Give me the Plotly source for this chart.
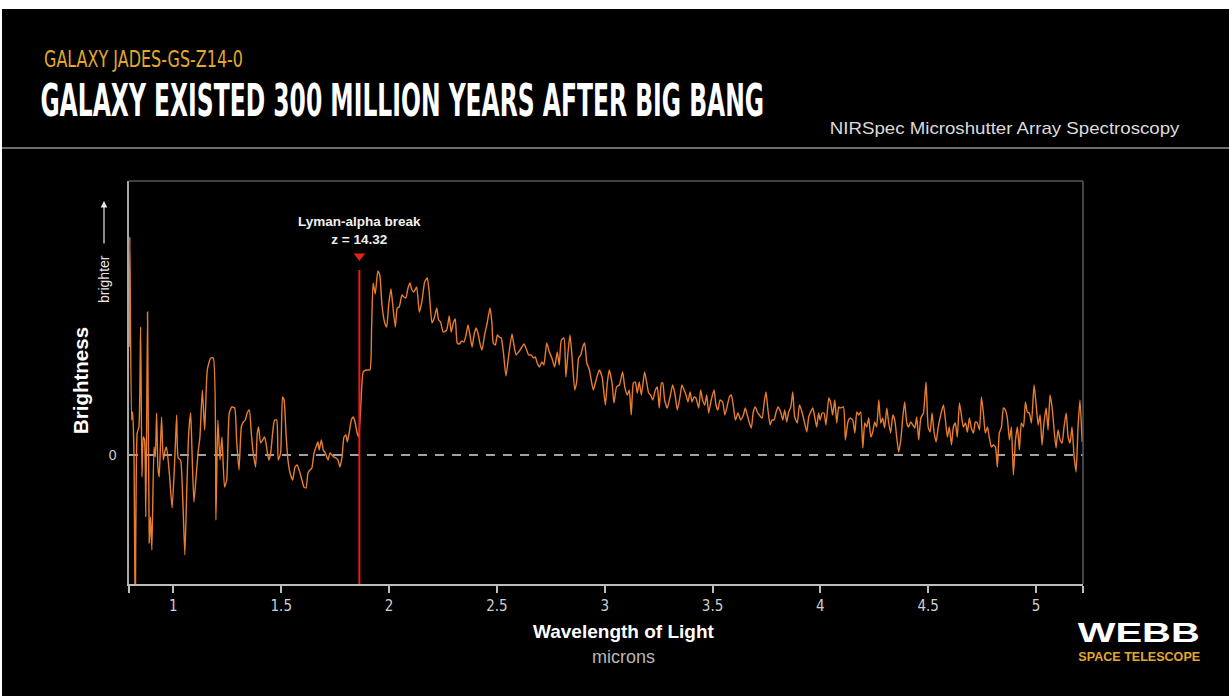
import json
import plotly.graph_objects as go

# ---- NIRSpec spectrum of JADES-GS-z14-0 (wavelength in microns, brightness in arbitrary units) ----
wavelength_blue = [
    0.795, 0.798, 0.806, 0.811, 0.817, 0.823, 0.832, 0.840, 0.848, 0.854,
    0.860, 0.866, 0.872, 0.880, 0.888, 0.894, 0.900, 0.910, 0.916, 0.922,
    0.928, 0.934, 0.945, 0.953, 0.962, 0.968, 0.981, 0.994, 1.006, 1.015,
    1.022, 1.033, 1.043, 1.053, 1.061, 1.071, 1.080, 1.086, 1.095, 1.104,
    1.114, 1.123, 1.134, 1.145, 1.157, 1.173, 1.185, 1.197, 1.206, 1.216,
    1.225, 1.237, 1.247, 1.259, 1.271, 1.284, 1.293, 1.304, 1.315, 1.324,
    1.333, 1.342, 1.352, 1.361, 1.370, 1.381, 1.389, 1.395, 1.404, 1.414,
    1.423, 1.432, 1.442, 1.451, 1.460, 1.469, 1.479, 1.486, 1.497, 1.506,
    1.513, 1.522, 1.531, 1.541, 1.553, 1.564, 1.574, 1.587, 1.596, 1.605,
    1.615, 1.624, 1.633, 1.642, 1.652, 1.661, 1.670, 1.676, 1.686, 1.695,
    1.704, 1.717, 1.726, 1.735, 1.744, 1.754, 1.763, 1.772, 1.782, 1.791,
    1.800, 1.806, 1.815, 1.825, 1.834, 1.843, 1.852, 1.859,
]
brightness_blue = [
    1.08, 2.18, 0.35, 0.43, 0.02, -1.70, 0.22, 0.28, 1.28, -0.22,
    0.18, 0.15, -0.62, 1.43, -0.88, -0.62, -0.95, 0.08, -0.02, 0.42,
    -0.12, -0.22, 0.38, -0.05, 0.05, 0.08, -0.18, -0.53, -0.05, 0.40,
    -0.03, -0.05, -0.42, -1.00, -0.42, 0.22, 0.42, 0.05, -0.47, -0.25,
    0.02, 0.18, 0.65, 0.25, 0.85, 0.97, 0.97, -0.65, 0.35, -0.05,
    0.18, -0.32, -0.25, 0.42, 0.48, 0.47, 0.15, -0.15, 0.28, 0.33,
    0.35, 0.42, 0.45, 0.22, 0.02, -0.12, 0.22, 0.28, 0.12, 0.15,
    0.18, 0.08, -0.05, 0.02, 0.22, 0.35, 0.35, -0.05, 0.02, 0.58,
    0.55, 0.22, -0.05, -0.18, -0.25, -0.12, -0.10, -0.18, -0.25, -0.32,
    -0.33, -0.18, -0.15, -0.13, 0.02, 0.08, 0.13, 0.05, 0.15, 0.05,
    0.02, -0.05, 0.02, 0.00, -0.02, -0.03, -0.05, -0.12, -0.02, 0.18,
    0.20, 0.13, 0.22, 0.35, 0.38, 0.32, 0.22, 0.18,
]

wavelength_peak = [
    1.868, 1.880, 1.893, 1.911, 1.919, 1.926, 1.936, 1.948, 1.957, 1.967,
    1.979, 1.989, 1.998, 2.009, 2.017, 2.029, 2.038, 2.047, 2.060, 2.069,
    2.078, 2.088, 2.097, 2.106, 2.115, 2.128, 2.140, 2.152, 2.165, 2.177,
    2.186, 2.199, 2.211, 2.221, 2.230, 2.239, 2.251, 2.267, 2.279, 2.288,
    2.298, 2.307, 2.316, 2.326, 2.337, 2.347, 2.357, 2.366, 2.375, 2.385,
    2.394, 2.403, 2.412, 2.421, 2.431, 2.443, 2.455, 2.468, 2.477, 2.483,
    2.493, 2.502, 2.511, 2.520, 2.530, 2.542, 2.555, 2.570, 2.579, 2.589,
    2.601, 2.613, 2.626, 2.638, 2.647, 2.660, 2.669, 2.678, 2.687, 2.697,
    2.709, 2.718, 2.731, 2.743, 2.755, 2.768, 2.780, 2.789, 2.799, 2.811,
    2.820, 2.830, 2.839, 2.848, 2.861, 2.870, 2.879, 2.889, 2.898, 2.907,
    2.917, 2.929, 2.947, 2.960, 2.975, 2.988,
]
brightness_peak = [
    0.45, 0.83, 0.85, 0.85, 1.27, 1.72, 1.61, 1.84, 1.80, 1.50,
    1.33, 1.28, 1.50, 1.66, 1.50, 1.28, 1.47, 1.48, 1.60, 1.58,
    1.57, 1.67, 1.72, 1.65, 1.63, 1.68, 1.43, 1.53, 1.73, 1.77,
    1.63, 1.32, 1.38, 1.47, 1.35, 1.33, 1.23, 1.25, 1.39, 1.23,
    1.32, 1.36, 1.12, 1.11, 1.14, 1.13, 1.20, 1.30, 1.20, 1.08,
    1.20, 1.27, 1.22, 1.12, 1.05, 1.20, 1.32, 1.47, 1.32, 1.12,
    1.10, 1.20, 1.18, 1.17, 1.03, 0.79, 1.00, 1.21, 1.10, 1.00,
    1.03, 1.07, 1.11, 1.05, 1.00, 1.00, 0.97, 0.98, 0.92, 0.88,
    0.93, 0.90, 1.12, 1.03, 0.97, 0.88, 1.03, 0.90, 1.15, 1.17,
    0.78, 1.03, 1.20, 1.00, 0.65, 0.73, 0.97, 1.00, 1.08, 1.12,
    0.92, 0.85, 0.65, 0.75, 0.85, 0.78,
]

wavelength_mid = [
    3.003, 3.012, 3.021, 3.034, 3.043, 3.055, 3.068, 3.083, 3.093, 3.105,
    3.114, 3.123, 3.133, 3.142, 3.151, 3.160, 3.170, 3.185, 3.195, 3.204,
    3.213, 3.223, 3.235, 3.244, 3.253, 3.263, 3.269, 3.278, 3.290, 3.303,
    3.315, 3.325, 3.337, 3.349, 3.358, 3.368, 3.377, 3.386, 3.396, 3.405,
    3.414, 3.423, 3.436, 3.445, 3.454, 3.464, 3.473, 3.482, 3.494, 3.507,
    3.516, 3.525, 3.535, 3.547, 3.557, 3.569, 3.578, 3.587, 3.596, 3.606,
    3.618, 3.631, 3.643, 3.652, 3.661, 3.671, 3.680, 3.689, 3.698, 3.708,
    3.717, 3.730, 3.739, 3.748, 3.757, 3.767, 3.776, 3.785, 3.795, 3.804,
    3.816, 3.826, 3.835, 3.844, 3.853, 3.863, 3.872, 3.881, 3.893, 3.903,
    3.912, 3.924, 3.937, 3.946, 3.955, 3.965, 3.974, 3.983, 3.992, 3.999,
    4.008, 4.017, 4.026, 4.039, 4.048, 4.057, 4.067, 4.076, 4.085,
]
brightness_mid = [
    0.50, 0.72, 0.85, 0.72, 0.52, 0.68, 0.70, 0.83, 0.68, 0.60,
    0.65, 0.40, 0.72, 0.73, 0.62, 0.73, 0.60, 0.83, 0.72, 0.62,
    0.60, 0.55, 0.65, 0.68, 0.47, 0.72, 0.72, 0.55, 0.47, 0.58,
    0.70, 0.62, 0.45, 0.58, 0.70, 0.65, 0.60, 0.53, 0.63, 0.53,
    0.58, 0.57, 0.47, 0.65, 0.55, 0.50, 0.60, 0.42, 0.55, 0.65,
    0.50, 0.45, 0.55, 0.53, 0.40, 0.50, 0.58, 0.60, 0.50, 0.35,
    0.42, 0.35, 0.40, 0.47, 0.40, 0.32, 0.27, 0.43, 0.48, 0.43,
    0.40, 0.37, 0.52, 0.63, 0.45, 0.30, 0.35, 0.35, 0.43, 0.48,
    0.43, 0.35, 0.45, 0.33, 0.43, 0.48, 0.63, 0.38, 0.32, 0.50,
    0.45, 0.35, 0.23, 0.38, 0.43, 0.47, 0.38, 0.28, 0.42, 0.35,
    0.42, 0.42, 0.30, 0.57, 0.52, 0.40, 0.55, 0.32, 0.48,
]

wavelength_red = [
    4.091, 4.107, 4.116, 4.128, 4.138, 4.150, 4.160, 4.169, 4.178, 4.187,
    4.197, 4.206, 4.215, 4.224, 4.234, 4.243, 4.252, 4.261, 4.271, 4.280,
    4.289, 4.298, 4.308, 4.317, 4.326, 4.336, 4.345, 4.354, 4.363, 4.373,
    4.382, 4.391, 4.401, 4.410, 4.419, 4.429, 4.438, 4.447, 4.456, 4.466,
    4.478, 4.490, 4.500, 4.509, 4.518, 4.527, 4.537, 4.546, 4.558, 4.571,
    4.580, 4.589, 4.598, 4.608, 4.617, 4.626, 4.635, 4.645, 4.654, 4.663,
    4.673, 4.682, 4.691, 4.700, 4.710, 4.719, 4.728, 4.738, 4.747, 4.756,
    4.765, 4.775, 4.784, 4.793, 4.802, 4.812, 4.821, 4.830, 4.840, 4.849,
    4.858, 4.867, 4.877, 4.886, 4.895, 4.905, 4.914, 4.923, 4.932, 4.942,
    4.951, 4.960, 4.969, 4.979, 4.991, 5.000, 5.010, 5.019, 5.028, 5.037,
    5.047, 5.056, 5.065, 5.075, 5.084, 5.093, 5.102, 5.112, 5.121, 5.130,
    5.140, 5.149, 5.158, 5.167, 5.177, 5.186, 5.195, 5.204, 5.214,
]
brightness_red = [
    0.47, 0.48, 0.15, 0.33, 0.37, 0.35, 0.22, 0.43, 0.40, 0.43,
    0.07, 0.32, 0.28, 0.37, 0.18, 0.23, 0.33, 0.28, 0.55, 0.32,
    0.37, 0.27, 0.47, 0.32, 0.22, 0.40, 0.35, 0.18, 0.03, 0.15,
    0.37, 0.53, 0.32, 0.28, 0.33, 0.30, 0.27, 0.38, 0.15, 0.37,
    0.42, 0.73, 0.28, 0.23, 0.42, 0.23, 0.13, 0.27, 0.40, 0.50,
    0.35, 0.18, 0.28, 0.10, 0.28, 0.32, 0.18, 0.52, 0.40, 0.28,
    0.32, 0.23, 0.37, 0.27, 0.22, 0.33, 0.32, 0.25, 0.58, 0.42,
    0.22, 0.28, 0.17, 0.08, 0.10, 0.08, -0.12, 0.22, 0.28, 0.47,
    0.45, 0.37, 0.15, 0.28, -0.20, 0.15, 0.28, 0.05, 0.32, 0.28,
    0.53, 0.43, 0.42, 0.32, 0.70, 0.52, 0.30, 0.40, 0.10, 0.32,
    0.47, 0.25, 0.60, 0.47, 0.25, 0.07, 0.25, 0.15, 0.12, 0.28,
    0.42, 0.18, 0.12, 0.28, -0.02, -0.17, 0.28, 0.55, 0.13,
]

# Lyman-alpha break position from the measured redshift
LYA_REST_UM = 0.121567
redshift = 14.32
break_um = LYA_REST_UM * (1 + redshift)
break_top = 1.85        # top of the red marker line (brightness units)
break_arrow_y = 1.99    # position of the red triangle marker

x_tick_vals = [1, 1.5, 2, 2.5, 3, 3.5, 4, 4.5, 5]
x_tick_text = ["1", "1.5", "2", "2.5", "3", "3.5", "4", "4.5", "5"]
x_range = [0.794, 5.218]
y_range = [-1.29, 2.74]

wavelength = wavelength_blue + wavelength_peak + wavelength_mid + wavelength_red
brightness = brightness_blue + brightness_peak + brightness_mid + brightness_red

# ---- page geometry (pixels) ----
W, H = 1229, 696
PL, PR, PT, PB = 129, 1083, 181, 584


def px_x(px):
    return (px - PL) / (PR - PL)


def px_y(py):
    return (PB - py) / (PB - PT)


ORANGE = "#E87D2E"
RED = "#E8201C"
GOLD = "#E2A82F"
HEAD = "DejaVu Sans, sans-serif"
COND = "DejaVu Sans Condensed, DejaVu Sans, sans-serif"
SANS = "Liberation Sans, Arial, Helvetica, sans-serif"

KICKER = "GALAXY JADES-GS-Z14-0"
HEADLINE = "GALAXY EXISTED 300 MILLION YEARS AFTER BIG BANG"
INSTRUMENT = "NIRSpec Microshutter Array Spectroscopy"
LOGO = "WEBB"
LOGO_SUB = "SPACE TELESCOPE"

fig = go.Figure()

fig.add_trace(go.Scatter(
    x=wavelength, y=brightness, mode="lines",
    line=dict(color=ORANGE, width=1.4, shape="spline", smoothing=0.5),
    hoverinfo="skip", showlegend=False,
))

fig.add_trace(go.Scatter(
    x=[break_um], y=[break_arrow_y], mode="markers",
    marker=dict(symbol="triangle-down", size=10, color=RED, line=dict(width=0)),
    hoverinfo="skip", showlegend=False,
))

shapes = [
    # white edge strips of the page
    dict(type="rect", xref="paper", yref="paper", layer="above",
         x0=px_x(0), x1=px_x(W), y0=px_y(0), y1=px_y(9),
         fillcolor="white", line=dict(width=0)),
    dict(type="rect", xref="paper", yref="paper", layer="above",
         x0=px_x(0), x1=px_x(2), y0=px_y(0), y1=px_y(H),
         fillcolor="white", line=dict(width=0)),
    # header separator
    dict(type="line", xref="paper", yref="paper",
         x0=px_x(2), x1=px_x(W), y0=px_y(148), y1=px_y(148),
         line=dict(color="#6e6e6e", width=2)),
    # frame top and right
    dict(type="line", xref="paper", yref="paper",
         x0=0, x1=1, y0=1, y1=1, line=dict(color="#555555", width=1.5)),
    dict(type="line", xref="paper", yref="paper",
         x0=1, x1=1, y0=0, y1=1, line=dict(color="#5a5a5a", width=1.5)),
    # zero level
    dict(type="line", xref="x", yref="y", layer="below",
         x0=x_range[0], x1=x_range[1], y0=0, y1=0,
         line=dict(color="#d8d8d8", width=1.3, dash="9px,8px")),
    # Lyman-alpha break marker
    dict(type="line", xref="x", yref="y",
         x0=break_um, x1=break_um, y0=y_range[0], y1=break_top,
         line=dict(color=RED, width=2)),
]

annotations = [
    dict(text=KICKER, x=px_x(42), y=px_y(59),
         xanchor="left", yanchor="middle", showarrow=False,
         font=dict(family=HEAD, size=23, color=GOLD)),
    dict(text="<b>%s</b>" % HEADLINE, x=px_x(38), y=px_y(100),
         xanchor="left", yanchor="middle", showarrow=False,
         font=dict(family=HEAD, size=45, color="white")),
    dict(text=INSTRUMENT, x=px_x(1182), y=px_y(128),
         xanchor="right", yanchor="middle", showarrow=False,
         font=dict(family=SANS, size=16, color="#dcdcdc")),
    dict(text="<b>Lyman-alpha break</b><br><b>z = %.2f</b>" % redshift,
         x=break_um, xref="x", y=px_y(249), yanchor="bottom", xanchor="center",
         showarrow=False, align="center",
         font=dict(family=SANS, size=13.5, color="#f0f0f0")),
    dict(text="<b>Brightness</b>", x=px_x(80), y=px_y(381), textangle=-90,
         xanchor="center", yanchor="middle", showarrow=False,
         font=dict(family=SANS, size=20.5, color="white")),
    dict(text="brighter", x=px_x(104), y=px_y(279), textangle=-90,
         xanchor="center", yanchor="middle", showarrow=False,
         font=dict(family=SANS, size=14, color="#e6e6e6")),
    dict(text="", x=px_x(104), y=px_y(201), ax=0, ay=44, showarrow=True,
         arrowhead=2, arrowsize=1.1, arrowwidth=1.2, arrowcolor="#e6e6e6"),
    dict(text="<b>Wavelength of Light</b>", x=px_x(624), y=px_y(631),
         xanchor="center", yanchor="middle", showarrow=False,
         font=dict(family=SANS, size=19, color="white")),
    dict(text="microns", x=px_x(623), y=px_y(657),
         xanchor="center", yanchor="middle", showarrow=False,
         font=dict(family=SANS, size=18, color="#b8b8b8")),
    dict(text="<b>%s</b>" % LOGO, x=px_x(1139), y=px_y(632),
         xanchor="center", yanchor="middle", showarrow=False,
         font=dict(family=SANS, size=28, color="white")),
    dict(text="<b>%s</b>" % LOGO_SUB, x=px_x(1139), y=px_y(657),
         xanchor="center", yanchor="middle", showarrow=False,
         font=dict(family=SANS, size=12, color=GOLD)),
]
for a in annotations:
    a.setdefault("xref", "paper")
    a.setdefault("yref", "paper")

fig.update_layout(
    width=W, height=H,
    margin=dict(l=PL, r=W - PR, t=PT, b=H - PB, autoexpand=False),
    paper_bgcolor="black", plot_bgcolor="black",
    shapes=shapes, annotations=annotations,
    xaxis=dict(
        range=x_range, tickvals=[x_range[0]] + x_tick_vals + [x_range[1]],
        ticktext=[""] + x_tick_text + [""],
        ticks="outside", ticklen=7, tickwidth=1.5, tickcolor="#bdbdbd",
        showline=True, linecolor="#bdbdbd", linewidth=2,
        showgrid=False, zeroline=False,
        tickfont=dict(family=COND, size=15, color="#cfcfcf"),
    ),
    yaxis=dict(
        range=y_range, tickvals=[0], ticktext=["0"], ticks="",
        ticklabelstandoff=8,
        showline=True, linecolor="#a8a8a8", linewidth=1.5,
        showgrid=False, zeroline=False,
        tickfont=dict(family=SANS, size=14, color="#cfcfcf"),
    ),
)

# Header and logo lettering is set in condensed / extended widths:
# stretch each of those text runs horizontally to its set width (px).
text_widths = {
    KICKER: [199, "left center"],
    HEADLINE: [724, "left center"],
    INSTRUMENT: [350, "right center"],
    LOGO: [122, "center center"],
    LOGO_SUB: [122, "center center"],
}
fit_text_js = """
var gd = document.getElementById('{plot_id}');
var widths = %s;
gd.querySelectorAll('text.annotation-text').forEach(function (t) {
  var spec = widths[t.textContent];
  if (!spec) { return; }
  var w = t.getBBox().width;
  if (!w) { return; }
  t.style.transformBox = 'fill-box';
  t.style.transformOrigin = spec[1];
  t.style.transform = 'scaleX(' + (spec[0] / w) + ')';
});
""" % json.dumps(text_widths)

fig.write_html("out.html", post_script=fit_text_js)
